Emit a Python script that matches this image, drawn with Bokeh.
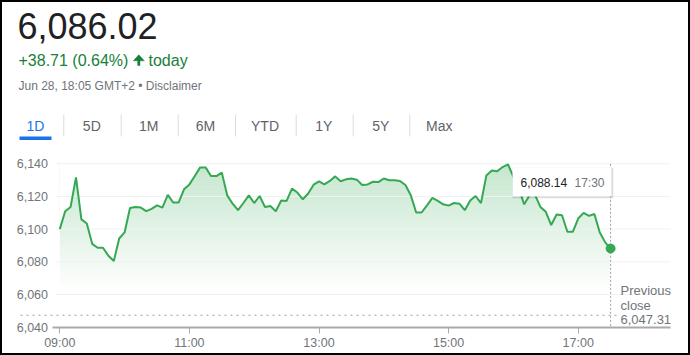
import numpy as np
import pandas as pd
from bokeh.plotting import figure
from bokeh.models import (Range1d, FixedTicker, NumeralTickFormatter, LinearAxis,
                          DatetimeAxis, DatetimeTickFormatter, Label)
from bokeh.embed import file_html
from bokeh.resources import INLINE

# ---------------- data ----------------
price_now = "6,086.02"
change_text = "+38.71 (0.64%)"
change_word = "today"
timestamp_text = "Jun 28, 18:05 GMT+2 \u2022 Disclaimer"
tabs = ["1D", "5D", "1M", "6M", "YTD", "1Y", "5Y", "Max"]
start_time = "2021-06-28 09:00"
prices = [
    6100.0, 6111.0, 6113.6, 6131.7, 6106.0, 6103.5, 6091.0, 6088.6, 6088.6, 6083.7,
    6080.5, 6094.3, 6098.0, 6113.0, 6113.6, 6113.2, 6111.0, 6112.4, 6114.6, 6113.2,
    6121.0, 6116.3, 6116.3, 6124.4, 6127.4, 6132.5, 6137.8, 6137.8, 6132.5, 6132.5,
    6134.6, 6120.7, 6115.6, 6111.6, 6116.0, 6120.7, 6116.0, 6120.3, 6113.6, 6114.2,
    6111.0, 6117.5, 6117.3, 6124.8, 6122.4, 6118.3, 6121.8, 6127.2, 6129.3, 6127.4,
    6129.5, 6132.3, 6129.3, 6130.5, 6131.0, 6130.3, 6127.0, 6127.4, 6129.0, 6128.8,
    6131.0, 6129.9, 6130.0, 6129.5, 6127.0, 6120.7, 6110.2, 6110.2, 6114.6, 6119.1,
    6117.3, 6115.2, 6114.4, 6116.0, 6115.6, 6111.6, 6117.5, 6120.3, 6116.0, 6132.9,
    6135.9, 6135.4, 6138.0, 6139.6, 6132.0, 6125.0, 6115.2, 6120.7, 6121.0, 6113.6,
    6110.6, 6102.5, 6109.0, 6108.5, 6098.4, 6098.4, 6106.5, 6110.0, 6108.1, 6109.3,
    6098.0, 6091.9, 6088.14,
]
prev_close = 6047.31
prev_close_lines = ["Previous", "close", "6,047.31"]
y_ticks = [6040, 6060, 6080, 6100, 6120, 6140]
x_tick_labels = ["09:00", "11:00", "13:00", "15:00", "17:00"]
last_time_label = "17:30"
last_value_label = "6,088.14"

# ---------------- helpers ----------------
times = pd.date_range(start_time, periods=len(prices), freq="5min")
t_ms = (times.astype("int64") // 10**6).to_numpy().astype(float)
day = start_time.split(" ")[0]
x_ticks = [float(pd.Timestamp(day + " " + s).value // 10**6) for s in x_tick_labels]
t0 = t_ms[0]

PX0, PX_PER_MIN = 59.3, 1.08      # pixel of first sample, pixels per minute
PY0, PY_PER_UNIT = 326.7, 1.634   # pixel of lowest tick, pixels per index point
W, H = 690, 355

def xd(px):
    return t0 + (px - PX0) / PX_PER_MIN * 60000.0

def yd(py):
    return y_ticks[0] + (PY0 - py) / PY_PER_UNIT

GREEN = "#34a853"
TEXT_GREEN = "#188038"
GREY = "#70757a"
FONT = "Liberation Sans"

p = figure(width=W, height=H, x_range=Range1d(xd(0), xd(W)), y_range=Range1d(yd(H), yd(0)),
           output_backend="svg", toolbar_location=None, min_border=0,
           x_axis_type=None, y_axis_type=None)
p.background_fill_color = "white"
p.border_fill_color = "white"
p.outline_line_color = "black"
p.outline_line_width = 3

# ---------------- gradient area ----------------
lo, hi = 6062.0, 6142.0
levels = np.arange(lo, hi, 1.0)
alphas = np.clip((levels + 0.5 - lo) / (6140.0 - lo), 0, 1) * 0.29
p.quad(left=t_ms[0], right=t_ms[-1], bottom=levels, top=levels + 1.0,
       fill_color=GREEN, fill_alpha=alphas, line_color=None)
# white mask above the price line
p.varea(x=t_ms, y1=prices, y2=hi + 3, fill_color="white")

# grid lines
grid_vals = y_ticks[1:]
p.segment(x0=xd(55), x1=xd(670), y0=grid_vals, y1=grid_vals, line_color="#f1f1f1", line_width=1)

# previous close dotted line
p.line(x=[xd(20), xd(616)], y=[prev_close, prev_close], line_color="#9aa0a6",
       line_width=1.2, line_dash="2 4")
# vertical hover line
p.line(x=[t_ms[-1], t_ms[-1]], y=[y_ticks[-1], y_ticks[0]], line_color="#9aa0a6",
       line_width=1, line_dash="2 2")

# price line and last point
p.line(t_ms, prices, line_color=GREEN, line_width=2)
p.scatter([t_ms[-1]], [prices[-1]], size=9, fill_color=GREEN, line_color=GREEN)

# ---------------- axes ----------------
yaxis = LinearAxis(fixed_location=xd(56.5), ticker=FixedTicker(ticks=y_ticks),
                   formatter=NumeralTickFormatter(format="0,0"),
                   axis_line_color=None, major_tick_line_color=None, minor_tick_line_color=None,
                   major_label_text_color=GREY, major_label_text_font_size="12.5px",
                   major_label_text_font=FONT, major_label_standoff=3)
p.add_layout(yaxis, "left")

fmt = DatetimeTickFormatter(minutes="%H:%M", hourmin="%H:%M", hours="%H:%M", context=None)
xaxis = DatetimeAxis(fixed_location=y_ticks[0], ticker=FixedTicker(ticks=x_ticks), formatter=fmt,
                     bounds=(xd(52), xd(670)),
                     axis_line_color="#aaaaaa", axis_line_width=2,
                     major_tick_line_color="#aaaaaa", major_tick_out=6, major_tick_in=0,
                     minor_tick_line_color=None,
                     major_label_text_color=GREY, major_label_text_font_size="12.5px",
                     major_label_text_font=FONT, major_label_standoff=3)
p.add_layout(xaxis, "below")

# ---------------- tooltip ----------------
p.quad(left=xd(512), right=xd(613), top=yd(167.5), bottom=yd(198), fill_color="black",
       fill_alpha=0.08, line_color=None)
p.quad(left=xd(512), right=xd(612), top=yd(167), bottom=yd(197), fill_color="black",
       fill_alpha=0.10, line_color=None)
p.quad(left=xd(512), right=xd(611), top=yd(167), bottom=yd(196), fill_color="white",
       line_color=None)

def label(px, py, text, size, color, align="left", font=FONT):
    p.add_layout(Label(x=xd(px), y=yd(py), text=text, text_font=font, text_font_size=size,
                       text_color=color, text_align=align, text_baseline="middle"))

label(520, 182, last_value_label, "12px", "#202124")
label(574, 182, last_time_label, "12px", GREY)

# previous close text
for i, s in enumerate(prev_close_lines):
    label(620, 290 + i * 14.7, s, "13px", GREY)

# ---------------- header ----------------
label(17, 25.5, price_now, "36px", "#202124")
label(18, 59.8, change_text, "16px", TEXT_GREEN)
label(148, 59.8, change_word, "16px", TEXT_GREEN)
# up arrow icon
p.patch(x=[xd(132.8), xd(138.3), xd(143.8)], y=[yd(60.3), yd(54.3), yd(60.3)],
        fill_color=TEXT_GREEN, line_color=TEXT_GREEN, line_width=0.5)
p.quad(left=xd(136.9), right=xd(139.7), top=yd(59.5), bottom=yd(65.3),
       fill_color=TEXT_GREEN, line_color=None)
label(18, 85.6, timestamp_text, "12px", GREY)

# tabs
tab_centers = [35, 91.3, 148.3, 205, 264.5, 323.3, 380.3, 438.7]
seps = [63.3, 120.7, 177.7, 235, 295.7, 352.7, 409.3]
for c, t in zip(tab_centers, tabs):
    label(c, 125.8, t, "14px", "#1a73e8" if t == "1D" else "#5f6368", align="center")
p.segment(x0=[xd(s) for s in seps], x1=[xd(s) for s in seps], y0=yd(114), y1=yd(136),
          line_color="#dadce0", line_width=1)
p.quad(left=xd(19), right=xd(51), top=yd(136), bottom=yd(139.5), fill_color="#1a73e8",
       line_color=None)

open("out.html", "w").write(file_html(p, INLINE))
